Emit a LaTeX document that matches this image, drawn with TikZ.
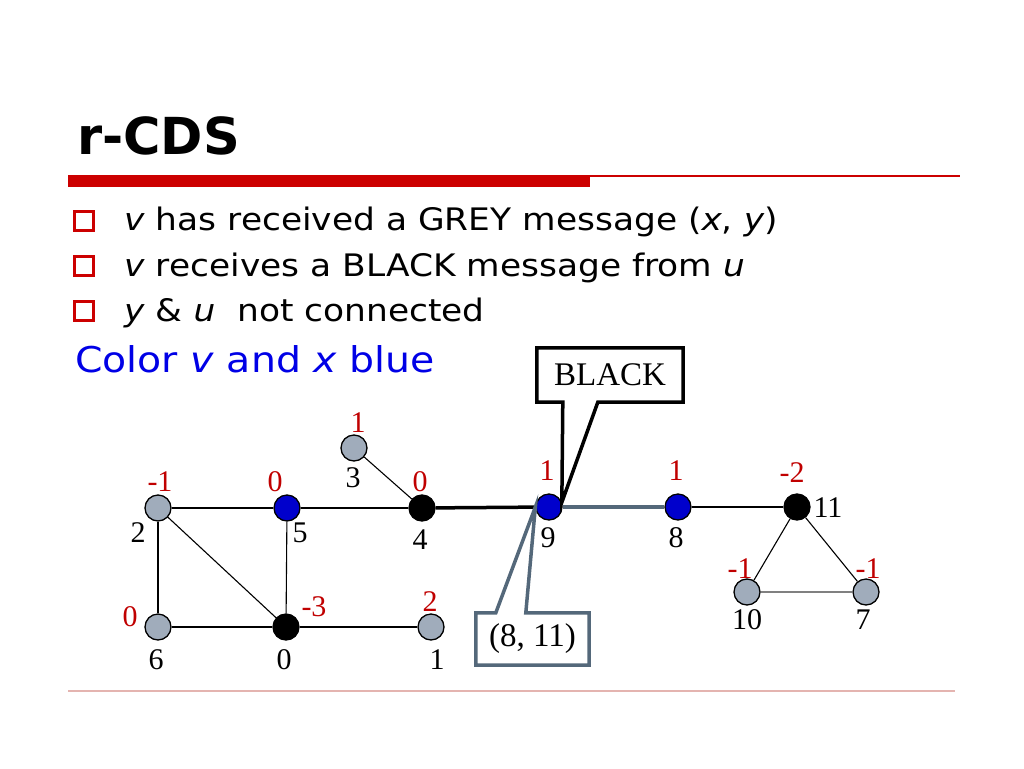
\documentclass[tikz,border=0pt]{standalone}
\usepackage{fontspec}
\setmainfont{Liberation Serif}
\setsansfont{DejaVu Sans}
\newfontfamily\widesans[FakeStretch=1.11]{DejaVu Sans}
\usetikzlibrary{calc}
\definecolor{barred}{RGB}{204,0,0}
\definecolor{numred}{RGB}{192,0,0}
\definecolor{nodegrey}{RGB}{160,172,187}
\definecolor{nodeblue}{RGB}{0,0,204}
\definecolor{slate}{RGB}{84,104,122}
\definecolor{textblue}{RGB}{0,0,230}
\definecolor{rulepink}{RGB}{228,180,176}

\begin{document}
\begin{tikzpicture}[x=1pt,y=-1pt,
    vertex/.style={circle, draw=black, line width=1.3pt, minimum size=26pt, inner sep=0pt},
    grey vertex/.style={vertex, fill=nodegrey},
    blue vertex/.style={vertex, fill=nodeblue},
    black vertex/.style={vertex, fill=black},
    weight/.style={text=numred, font=\fontsize{30}{30}\selectfont, inner sep=0pt},
    vid/.style={font=\fontsize{30}{30}\selectfont, inner sep=0pt},
    edge/.style={line width=1.1pt},
    bullet/.style={draw=barred, line width=3pt, minimum size=19pt, inner sep=0pt},
    item/.style={anchor=base west, font=\widesans\fontsize{31}{31}\selectfont, inner sep=0pt}]
    \useasboundingbox (0,0) rectangle (1024,768);

    % heading and rules
    \node[anchor=base west, font=\sffamily\bfseries\fontsize{51}{51}\selectfont, inner sep=0pt] (title) at (77,154) {r-CDS};
    \fill[barred] (68,175) rectangle (590,187);
    \draw[barred, line width=1.5pt] (590,175.75) -- (960,175.75);
    \draw[rulepink, line width=1.2pt] (68,691) -- (955,691);

    % bullet list
    \node[bullet] (b1) at (84,221) {};
    \node[item] (t1) at (124,230) {\textit{v} has received a GREY message (\textit{x}, \textit{y})};
    \node[bullet] (b2) at (84,266) {};
    \node[item] (t2) at (124,276) {\textit{v} receives a BLACK message from \textit{u}};
    \node[bullet] (b3) at (84,311) {};
    \node[item] (t3) at (124,321) {\textit{y} \& \textit{u}\ \ not connected};
    \node[item, text=textblue, font=\widesans\fontsize{35.5}{36}\selectfont] (t4) at (75,372) {Color \textit{v} and \textit{x} blue};

    % vertices
    \node[grey vertex] (n2) at (158,508) {};
    \node[blue vertex] (n5) at (287,508) {};
    \node[black vertex] (n4) at (422,508) {};
    \node[blue vertex] (n9) at (549,507) {};
    \node[blue vertex] (n8) at (678,507) {};
    \node[black vertex] (n11) at (797,507) {};
    \node[grey vertex] (n3) at (354,448) {};
    \node[grey vertex] (n6) at (158,627) {};
    \node[black vertex] (n0) at (286,627) {};
    \node[grey vertex] (n1) at (431,627) {};
    \node[grey vertex] (n10) at (747,592) {};
    \node[grey vertex] (n7) at (866,592) {};

    % edges
    \draw[edge] (n2) -- (n5);
    \draw[edge] (n5) -- (n4);
    \draw[edge] (n3) -- (n4);
    \draw[line width=3.5pt] (n4) -- (n9);
    \draw[slate, line width=3.5pt] (n9) -- (n8);
    \draw[edge] (n8) -- (n11);
    \draw[edge] (n2) -- (n6);
    \draw[edge] (n2) -- (n0);
    \draw[edge] (n5) -- (n0);
    \draw[edge] (n6) -- (n0);
    \draw[edge] (n0) -- (n1);
    \draw[edge] (n11) -- (n10);
    \draw[edge] (n11) -- (n7);
    \draw[edge, gray] (n10) -- (n7);

    % weights
    \node[weight] (w2) at (160,482) {-1};
    \node[weight] (w5) at (275,482) {0};
    \node[weight] (w4) at (420,482) {0};
    \node[weight] (w3) at (358,423) {1};
    \node[weight] (w9) at (547,471) {1};
    \node[weight] (w8) at (676,471) {1};
    \node[weight] (w11) at (792,473) {-2};
    \node[weight] (w10) at (740,569) {-1};
    \node[weight] (w7) at (868,569) {-1};
    \node[weight] (w6) at (130,617) {0};
    \node[weight] (w0) at (314,607) {-3};
    \node[weight] (w1) at (430,602) {2};

    % vertex ids
    \node[vid] (l2) at (138,533) {2};
    \node[vid] (l5) at (300,533) {5};
    \node[vid] (l4) at (420,540) {4};
    \node[vid] (l3) at (353,478) {3};
    \node[vid] (l9) at (548,538) {9};
    \node[vid] (l8) at (676,538) {8};
    \node[vid] (l11) at (828,508) {11};
    \node[vid] (l6) at (156,660) {6};
    \node[vid] (l0) at (284,660) {0};
    \node[vid] (l1) at (437,660) {1};
    \node[vid] (l10) at (747,620) {10};
    \node[vid] (l7) at (863,620) {7};

    % callouts
    \node[font=\fontsize{33}{33}\selectfont, minimum width=146pt, minimum height=54pt, inner sep=0pt] (blackmsg) at (610,375) {BLACK};
    \draw[line width=3.5pt] (blackmsg.north west) -- (blackmsg.north east) -- (blackmsg.south east)
        -- ($(blackmsg.south west)+(61,0)$) -- (n9.20) -- ($(blackmsg.south west)+(26,0)$)
        -- (blackmsg.south west) -- cycle;
    \node[font=\fontsize{33}{33}\selectfont, minimum width=113pt, minimum height=52pt, inner sep=0pt] (pairmsg) at (532.5,639) {(8, 11)};
    \draw[slate, line width=3.5pt] (pairmsg.south west) -- (pairmsg.north west)
        -- ($(pairmsg.north west)+(20,0)$) -- (n9.west) -- ($(pairmsg.north west)+(50,0)$)
        -- (pairmsg.north east) -- (pairmsg.south east) -- cycle;
\end{tikzpicture}
\end{document}
